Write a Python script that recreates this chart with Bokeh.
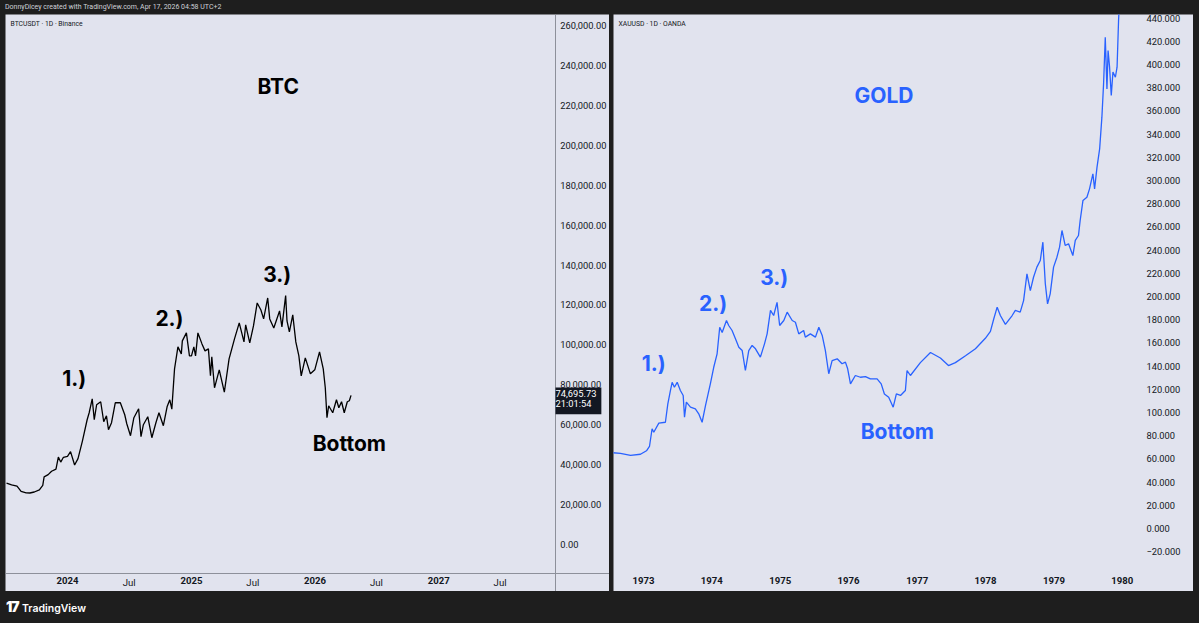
import pandas as pd
from bokeh.plotting import figure
from bokeh.layouts import column, row, Spacer
from bokeh.models import (Range1d, FixedTicker, NumeralTickFormatter, DatetimeTickFormatter,
                          Label, Div, ColumnDataSource)
from bokeh.embed import file_html
from bokeh.resources import INLINE

# ---------------- data ----------------
btc_dates = ["2023-07-05","2023-07-20","2023-08-05","2023-08-17","2023-09-01","2023-09-12","2023-09-25","2023-10-10","2023-10-20","2023-10-24",
             "2023-11-05","2023-11-15","2023-11-28","2023-12-05","2023-12-12","2023-12-20","2024-01-01","2024-01-10","2024-01-22","2024-02-01",
             "2024-02-14","2024-02-28","2024-03-05","2024-03-14","2024-03-20","2024-03-27","2024-04-08","2024-04-17","2024-04-25","2024-05-01",
             "2024-05-10","2024-05-21","2024-06-05","2024-06-18","2024-06-24","2024-07-05","2024-07-15","2024-07-29","2024-08-05","2024-08-12",
             "2024-08-25","2024-09-06","2024-09-18","2024-09-27","2024-10-10","2024-10-21","2024-10-29","2024-11-04","2024-11-12","2024-11-22",
             "2024-12-02","2024-12-05","2024-12-17","2024-12-26","2025-01-01","2025-01-08","2025-01-13","2025-01-20","2025-02-01","2025-02-10",
             "2025-02-20","2025-02-26","2025-03-02","2025-03-10","2025-03-24","2025-04-08","2025-04-22","2025-05-08","2025-05-22","2025-06-05",
             "2025-06-10","2025-06-22","2025-07-03","2025-07-14","2025-07-25","2025-08-02","2025-08-14","2025-08-20","2025-09-01","2025-09-18",
             "2025-09-25","2025-10-06","2025-10-10","2025-10-17","2025-10-27","2025-11-05","2025-11-14","2025-11-21","2025-12-03","2025-12-18",
             "2025-12-31","2026-01-14","2026-01-25","2026-01-31","2026-02-05","2026-02-10","2026-02-22","2026-03-05","2026-03-12","2026-03-20",
             "2026-03-28","2026-04-06","2026-04-12","2026-04-17"]
btc_close = [30700, 29900, 29200, 26600, 25900, 25800, 26300, 27400, 29600, 33900,
             35000, 36700, 37800, 43800, 41300, 43700, 44200, 46500, 39800, 43000,
             51800, 62500, 66000, 73000, 62500, 70000, 71500, 61500, 64500, 57500,
             61000, 71000, 71000, 65000, 60500, 54500, 63500, 68000, 54000, 60000,
             64000, 53500, 61000, 66000, 59500, 69000, 72500, 67800, 88000, 99000,
             95500, 102000, 106000, 94500, 94500, 99000, 94500, 106000, 100500, 97000,
             98000, 84500, 94000, 78500, 87500, 76300, 93000, 103000, 111000, 101500,
             110000, 101000, 109500, 121000, 117500, 113000, 123500, 113000, 108500, 117000,
             109000, 124700, 112000, 106500, 115000, 101500, 94500, 84500, 93500, 85500,
             87500, 96500, 88000, 78500, 63500, 69500, 66000, 72500, 68500, 71500,
             66000, 71500, 72000, 74695.73]

gold_dates = ["1972-07-10","1972-08-31","1972-10-24","1972-12-16","1973-01-17","1973-02-02","1973-02-16","1973-02-25","1973-03-24","1973-04-28",
              "1973-05-11","1973-05-25","1973-06-03","1973-06-15","1973-06-30","1973-07-17","1973-08-01","1973-08-08","1973-08-18","1973-09-09",
              "1973-10-05","1973-10-23","1973-11-10","1973-11-28","1973-12-24","1974-01-11","1974-01-29","1974-02-12","1974-02-25","1974-03-20",
              "1974-04-01","1974-04-19","1974-05-07","1974-05-25","1974-06-12","1974-06-29","1974-07-17","1974-08-04","1974-08-22","1974-09-17",
              "1974-10-09","1974-10-23","1974-11-10","1974-11-27","1974-12-15","1974-12-29","1975-01-20","1975-02-07","1975-03-06","1975-03-23",
              "1975-04-10","1975-05-06","1975-05-15","1975-06-11","1975-07-08","1975-07-26","1975-08-13","1975-08-30","1975-09-17","1975-10-05",
              "1975-11-01","1975-11-27","1975-12-15","1975-12-27","1976-01-11","1976-02-06","1976-03-04","1976-03-31","1976-04-26","1976-06-01",
              "1976-06-23","1976-07-10","1976-08-02","1976-08-26","1976-09-12","1976-10-04","1976-10-30","1976-11-08","1976-11-26","1977-01-18",
              "1977-03-13","1977-05-05","1977-06-17","1977-07-24","1977-09-16","1977-11-08","1977-12-31","1978-01-27","1978-02-14","1978-03-04",
              "1978-03-21","1978-04-17","1978-05-23","1978-06-09","1978-07-05","1978-07-23","1978-08-10","1978-08-28","1978-09-14","1978-10-02",
              "1978-10-20","1978-11-03","1978-11-16","1978-11-28","1978-12-12","1978-12-30","1979-01-17","1979-01-31","1979-02-13","1979-03-02",
              "1979-03-20","1979-04-12","1979-04-25","1979-05-12","1979-05-21","1979-06-05","1979-06-26","1979-07-10","1979-07-28","1979-08-06",
              "1979-08-19","1979-09-02","1979-09-14","1979-09-23","1979-10-02","1979-10-11","1979-10-17","1979-10-25","1979-11-03","1979-11-12",
              "1979-11-25","1979-12-04","1979-12-12","1979-12-21"]
gold_close = [65.5, 64.7, 63.0, 64.0, 67.0, 70.7, 86.0, 83.0, 90.8, 91.6,
              107.5, 119.0, 126.0, 121.8, 126.0, 119.0, 114.7, 96.0, 108.9, 104.6,
              103.2, 98.9, 91.6, 106.0, 124.7, 139.0, 150.6, 173.5, 169.0, 179.3,
              175.0, 170.7, 163.5, 156.3, 153.4, 136.2, 153.4, 157.8, 154.9, 147.7,
              159.2, 167.8, 188.0, 183.6, 195.0, 175.0, 179.3, 186.5, 179.3, 177.8,
              167.8, 170.7, 165.0, 167.8, 165.0, 173.5, 166.4, 153.4, 133.4, 144.8,
              146.3, 142.0, 143.4, 137.7, 124.7, 131.9, 130.4, 131.0, 129.0, 129.0,
              124.7, 116.0, 113.2, 104.6, 116.0, 114.7, 119.0, 136.2, 131.9, 143.0,
              151.7, 147.0, 140.5, 143.0, 149.0, 155.0, 164.0, 170.0, 180.8, 190.8,
              183.6, 176.0, 183.6, 188.0, 186.5, 196.5, 219.6, 205.0, 216.6, 225.3,
              231.0, 246.8, 211.0, 193.7, 202.3, 225.3, 233.9, 242.5, 256.9, 244.0,
              245.4, 235.3, 248.3, 252.6, 265.5, 282.8, 285.6, 292.8, 305.8, 292.8,
              311.5, 327.3, 354.6, 383.4, 423.5, 379.0, 412.0, 397.7, 373.3, 393.4,
              389.0, 397.7, 438.0, 470.0]

btc_price_ticks = [0, 20000, 40000, 60000, 80000, 100000, 120000, 140000, 160000,
                   180000, 200000, 220000, 240000, 260000]
gold_price_ticks = [-20, 0, 20, 40, 60, 80, 100, 120, 140, 160, 180, 200, 220, 240,
                    260, 280, 300, 320, 340, 360, 380, 400, 420, 440]
btc_year_ticks = ["2024-01-01", "2025-01-01", "2026-01-01", "2027-01-01"]
btc_month_ticks = ["2024-07-01", "2025-07-01", "2026-07-01", "2027-07-01"]
btc_month_labels = ["Jul", "Jul", "Jul", "Jul"]
gold_year_ticks = ["1973-01-01", "1974-01-01", "1975-01-01", "1976-01-01",
                   "1977-01-01", "1978-01-01", "1979-01-01", "1980-01-01"]

btc_last_price = 74695.73
btc_last_text = "74,695.73\n21:01:54"

# ---------------- style ----------------
PANEL_BG = "#e1e3ee"
PAGE_BG = "#1e1e1e"
TEXT = "#131722"
BLUE = "#2962ff"
SEP = "#8d909a"
FIG_H = 577


def ms(d):
    return pd.Timestamp(d).value / 1e6


def base_fig(width, xr, yr, price_axis_at, time_axis_at, price_standoff):
    p = figure(width=width, height=FIG_H, x_axis_type="datetime", y_axis_location="right",
               x_range=Range1d(ms(xr[0]), ms(xr[1])), y_range=Range1d(*yr),
               toolbar_location=None, output_backend="svg", title=None,
               min_border_left=0, min_border_top=0, min_border_right=0,
               min_border_bottom=0, background_fill_color=PANEL_BG,
               border_fill_color=PANEL_BG, outline_line_color=None)
    p.xgrid.visible = False
    p.ygrid.visible = False
    for ax in (p.xaxis[0], p.yaxis[0]):
        ax.axis_line_color = None
        ax.major_tick_line_color = None
        ax.minor_tick_line_color = None
        ax.major_tick_out = 0
        ax.major_tick_in = 0
        ax.major_label_text_font = "Roboto"
        ax.major_label_text_color = TEXT
    p.yaxis[0].fixed_location = ms(price_axis_at)
    p.xaxis[0].fixed_location = time_axis_at
    p.yaxis[0].major_label_text_font_size = "9.3px"
    p.yaxis[0].major_label_standoff = price_standoff
    p.xaxis[0].major_label_text_font_size = "9.6px"
    p.xaxis[0].major_label_text_font_style = "bold"
    p.xaxis[0].major_label_standoff = 3
    yf = "%Y"
    p.xaxis[0].formatter = DatetimeTickFormatter(years=yf, months=yf, days=yf, hours=yf,
                                                 hourmin=yf, minutes=yf, minsec=yf,
                                                 seconds=yf, milliseconds=yf,
                                                 microseconds=yf)
    return p


def big_text(p, x, y, text, color):
    p.add_layout(Label(x=ms(x), y=y, text=text, text_color=color, text_font="Inter",
                       text_font_style="bold", text_font_size="21px",
                       text_align="center", text_baseline="middle"))


def panel_title(p, text):
    p.add_layout(Label(x=5, y=FIG_H - 9.3, x_units="screen", y_units="screen", text=text,
                       text_color=TEXT, text_font="Roboto", text_font_size="6.8px",
                       text_baseline="middle", text_align="left"))


# ---------------- BTC panel ----------------
btc_src = ColumnDataSource(dict(date=pd.to_datetime(btc_dates), close=btc_close))
p1 = base_fig(604, ("2023-07-02", "2028-05-19"), (-23545, 265509),
              "2027-12-11", -14528, 5)
p1.yaxis[0].axis_line_color = SEP
p1.xaxis[0].axis_line_color = SEP
p1.yaxis[0].ticker = FixedTicker(ticks=btc_price_ticks)
p1.yaxis[0].formatter = NumeralTickFormatter(format="0,0.00")
p1.xaxis[0].ticker = FixedTicker(ticks=[ms(d) for d in btc_year_ticks])
p1.line("date", "close", source=btc_src, line_color="black", line_width=1.3)
for d, t in zip(btc_month_ticks, btc_month_labels):
    p1.add_layout(Label(x=ms(d), y=9.5, y_units="screen", text=t, text_color=TEXT,
                        text_font="Roboto", text_font_size="9.6px",
                        text_align="center", text_baseline="middle"))
panel_title(p1, "BTCUSDT · 1D · Binance")
big_text(p1, "2025-09-14", 229440, "BTC", "black")
big_text(p1, "2024-01-21", 83160, "1.)", "black")
big_text(p1, "2024-10-28", 113217, "2.)", "black")
big_text(p1, "2025-09-11", 135259, "3.)", "black")
big_text(p1, "2026-04-12", 50597, "Bottom", "black")
p1.add_layout(Label(x=550, x_units="screen", y=btc_last_price, y_offset=8,
                    text=btc_last_text, text_color="white", text_font="Roboto",
                    text_font_size="9.3px", text_line_height=0.9,
                    text_align="left", text_baseline="top",
                    background_fill_color="#131722", padding=(0, 5, 1, 5)))

# ---------------- GOLD panel ----------------
gold_src = ColumnDataSource(dict(date=pd.to_datetime(gold_dates), close=gold_close))
p2 = base_fig(580, ("1972-07-25", "1981-01-15"), (-54.3, 443.1),
              "1980-04-07", -38.8, 6)
p2.yaxis[0].ticker = FixedTicker(ticks=gold_price_ticks)
p2.yaxis[0].formatter = NumeralTickFormatter(format="0.000")
p2.yaxis[0].major_label_overrides = {-20: "\u221220.000"}
p2.xaxis[0].ticker = FixedTicker(ticks=[ms(d) for d in gold_year_ticks])
p2.line("date", "close", source=gold_src, line_color=BLUE, line_width=1.3)
panel_title(p2, "XAUUSD · 1D · OANDA")
big_text(p2, "1976-07-08", 373.3, "GOLD", BLUE)
big_text(p2, "1973-02-25", 142.4, "1.)", BLUE)
big_text(p2, "1974-01-07", 194.4, "2.)", BLUE)
big_text(p2, "1974-11-30", 216.6, "3.)", BLUE)
big_text(p2, "1976-09-17", 83.6, "Bottom", BLUE)

# ---------------- page strips ----------------
top = Div(text="DonnyDicey created with TradingView.com, Apr 17, 2026 04:58 UTC+2",
          width=1199, height=14, margin=0,
          styles={"color": "#cfd1d8", "font-size": "7px", "font-family": "Roboto",
                  "line-height": "14px", "white-space": "nowrap", "padding-left": "5px"})
bottom = Div(text='<span style="font-family:Inter;font-weight:900;font-size:14px;'
                  'letter-spacing:-1px;">17</span>&nbsp;<span style="font-family:Inter;'
                  'font-weight:600;font-size:10.5px;">TradingView</span>',
             width=1199, height=31, margin=0,
             styles={"color": "#ffffff", "line-height": "31px", "white-space": "nowrap",
                     "padding-left": "6px"})

panels = row(Spacer(width=5, height=FIG_H), p1, Spacer(width=4, height=FIG_H), p2, spacing=0)
layout = column(top, panels, bottom, spacing=0)

html = file_html(layout, INLINE, title="BTC vs GOLD")
html = html.replace("</head>", "<style>html,body{background:%s;}</style></head>" % PAGE_BG, 1)
open("out.html", "w").write(html)
